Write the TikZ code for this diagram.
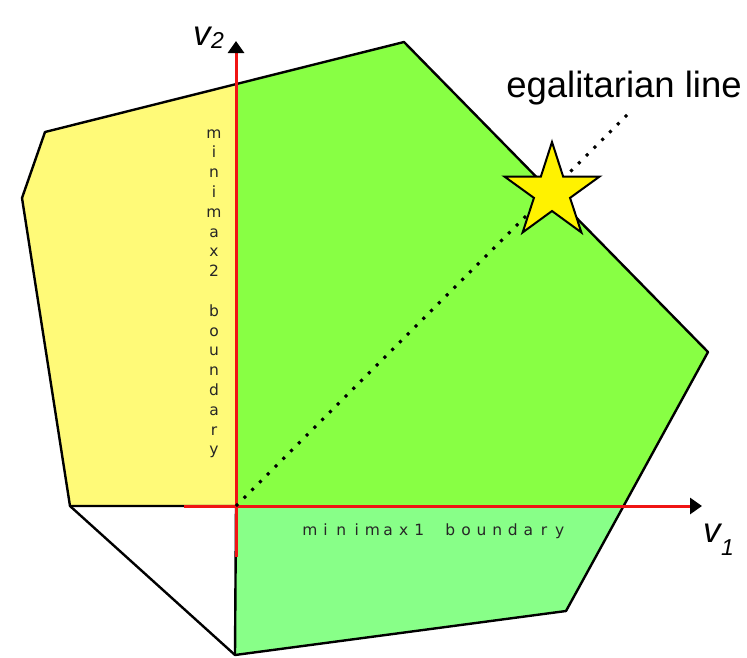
\documentclass[tikz,border=0pt]{standalone}
\usepackage{fontspec}
\setmainfont{Liberation Sans}
\newfontfamily\lblfont{DejaVu Sans}
\usetikzlibrary{arrows.meta}
\definecolor{ylw}{RGB}{255,250,120}
\definecolor{grnA}{RGB}{136,255,68}
\definecolor{grnB}{RGB}{136,255,136}
\definecolor{axred}{RGB}{240,20,20}
\tikzset{
  outline/.style={draw=black, line width=2.4pt, line join=round},
  axis/.style={draw=axred, line width=3pt, -{Triangle[black,length=12pt,width=16pt]}},
  egal/.style={line width=3pt, dash pattern=on 3pt off 8pt},
  starshape/.style={draw=black, fill=yellow, line width=2pt, line join=miter},
  bigtxt/.style={font=\fontsize{36.5}{40}\selectfont, inner sep=0pt},
  vtxt/.style={font=\fontsize{35}{40}\selectfont\itshape, inner sep=0pt, anchor=base west},
  subtxt/.style={font=\fontsize{23}{26}\selectfont\itshape, inner sep=0pt, anchor=base west},
  chr/.style={font=\lblfont\fontsize{15.5}{18}\selectfont, text=black!85, inner sep=0pt, anchor=base}
}
\begin{document}
\begin{tikzpicture}[x=1pt,y=-1pt]
\useasboundingbox (0,0) rectangle (747,657);
% corner coordinates
\coordinate (P1) at (45,132);
\coordinate (P2) at (404,42);
\coordinate (P3) at (708,352);
\coordinate (P4) at (566,611);
\coordinate (P5) at (235,655);
\coordinate (P6) at (70,506);
\coordinate (P7) at (22,198);
\coordinate (O) at (236,506);
\coordinate (T) at (236,84.1);
\coordinate (R) at (623.6,506);
% regions
\fill[ylw] (P1) -- (T) -- (O) -- (P6) -- (P7) -- cycle;
\fill[grnA] (T) -- (P2) -- (P3) -- (R) -- (O) -- cycle;
\fill[grnB] (O) -- (R) -- (P4) -- (P5) -- cycle;
% outline
\draw[outline] (P1) -- (P2) -- (P3) -- (P4) -- (P5) -- (P6) -- (P7) -- cycle;
\draw[outline] (P6) -- (O) -- (P5);
% axes
\coordinate (yb) at (236,557);
\coordinate (yt) at (236,41);
\coordinate (xl) at (184,506);
\coordinate (xr) at (702,506);
\draw[axis] (yb) -- (yt);
\draw[axis] (xl) -- (xr);
% egalitarian line
\coordinate (E) at (630,112);
\draw[egal] (O) -- (E);
% star
\coordinate (S) at (552,192);
\path[starshape]
  ([shift={(90:-50)}]S) --
  ([shift={(126:-19)}]S) --
  ([shift={(162:-50)}]S) --
  ([shift={(198:-19)}]S) --
  ([shift={(234:-50)}]S) --
  ([shift={(270:-19)}]S) --
  ([shift={(306:-50)}]S) --
  ([shift={(342:-19)}]S) --
  ([shift={(18:-50)}]S) --
  ([shift={(54:-19)}]S) -- cycle;
% labels
\node[bigtxt, anchor=base] (eg) at (624,97) {egalitarian line};
\node[vtxt] (v2) at (193,45) {v};
\node[subtxt] (v2s) at (211,48) {2};
\node[vtxt] (v1) at (703,542) {v};
\node[subtxt] (v1s) at (721,555) {1};
\foreach \c [count=\i] in {m,i,n,i,m,a,x,1,{},b,o,u,n,d,a,r,y}
  \node[chr] (h\i) at ({310+(\i-1)*15.6},535) {\c};
\foreach \c [count=\i] in {m,i,n,i,m,a,x,2,{},b,o,u,n,d,a,r,y}
  \node[chr] (w\i) at (214,{138+(\i-1)*19.8}) {\c};
\end{tikzpicture}
\end{document}
